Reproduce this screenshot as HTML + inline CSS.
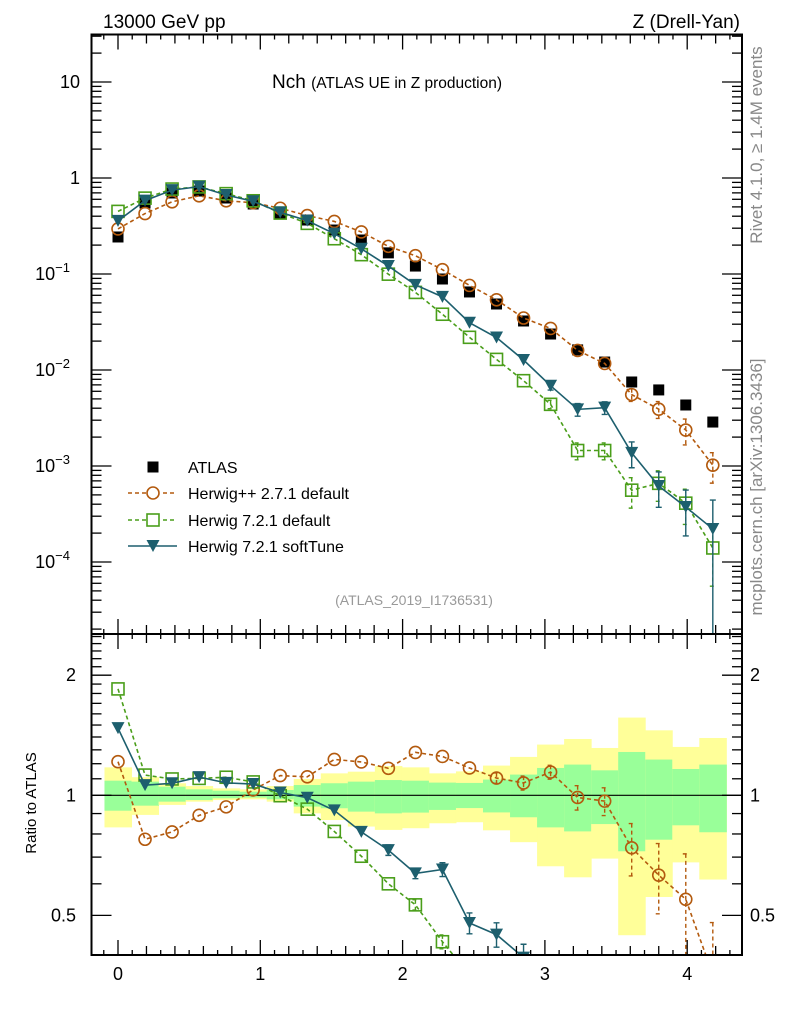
<!DOCTYPE html>
<html><head><meta charset="utf-8"><style>
html,body{margin:0;padding:0;background:#fff;width:786px;height:1024px;overflow:hidden;}
svg{display:block;font-family:"Liberation Sans",Arial,sans-serif;}
</style></head><body>
<svg id="c" width="786" height="1024" viewBox="0 0 786 1024" xmlns="http://www.w3.org/2000/svg" overflow="hidden">
<rect x="0" y="0" width="786" height="1024" fill="#fff"/>
<g id="bands"></g>
<g id="grid"></g>
<g id="series"></g>
<g id="axes"></g>
<text x="103" y="28" font-size="19">13000 GeV pp</text>
<text x="740" y="28" font-size="19" text-anchor="end">Z (Drell-Yan)</text>
<text x="272" y="88" font-size="19">Nch <tspan font-size="15.5">(ATLAS UE in Z production)</tspan></text>
<text x="414" y="605" font-size="14" fill="#999" text-anchor="middle">(ATLAS_2019_I1736531)</text>
<text transform="translate(762,145) rotate(-90)" font-size="17" fill="#888" text-anchor="middle">Rivet 4.1.0, ≥ 1.4M events</text>
<text transform="translate(762,487) rotate(-90)" font-size="17" fill="#888" text-anchor="middle">mcplots.cern.ch [arXiv:1306.3436]</text>
<text transform="translate(36,803) rotate(-90)" font-size="15" text-anchor="middle">Ratio to ATLAS</text>
<g id="legend"></g>
</svg>
<script>
const xs = [0,0.19,0.38,0.57,0.76,0.95,1.14,1.33,1.52,1.71,1.9,2.09,2.28,2.47,2.66,2.85,3.04,3.23,3.42,3.61,3.8,3.99,4.18];
const atlas = [0.243,0.549,0.698,0.732,0.619,0.536,0.432,0.365,0.287,0.226,0.166,0.121,0.0887,0.0650,0.0487,0.0324,0.0237,0.0162,0.0121,0.0075,0.0062,0.00432,0.00287];
const herwigpp = [0.295,0.426,0.565,0.652,0.579,0.553,0.484,0.406,0.353,0.274,0.194,0.155,0.111,0.0761,0.0538,0.0348,0.0271,0.0160,0.0117,0.00554,0.00391,0.00237,0.00102];
const herwigppErr = [0.01,0.01,0.01,0.01,0.01,0.01,0.01,0.01,0.01,0.015,0.015,0.02,0.02,0.02,0.03,0.04,0.04,0.07,0.08,0.15,0.2,0.3,0.35];
const herwig721 = [0.449,0.617,0.767,0.807,0.687,0.579,0.431,0.337,0.233,0.159,0.0996,0.0643,0.0381,0.0219,0.0129,0.00774,0.00439,0.00145,0.00145,0.00056,0.00066,0.00041,0.00014];
const herwig721Err = [0.01,0.01,0.01,0.01,0.01,0.01,0.01,0.01,0.01,0.015,0.02,0.03,0.04,0.05,0.06,0.08,0.1,0.2,0.2,0.35,0.35,0.4,0.6];
const softTune = [0.358,0.582,0.748,0.813,0.665,0.572,0.439,0.360,0.263,0.183,0.121,0.0771,0.0578,0.0311,0.0218,0.0127,0.00686,0.00389,0.00405,0.00137,0.000619,0.000374,0.000221];
const softTuneErr = [0.01,0.01,0.01,0.01,0.01,0.01,0.01,0.01,0.01,0.02,0.03,0.03,0.04,0.06,0.07,0.08,0.1,0.15,0.15,0.3,0.4,0.5,1.0];
const yellowUp = [1.175,1.110,1.072,1.055,1.041,1.035,1.055,1.099,1.135,1.146,1.184,1.175,1.135,1.148,1.187,1.248,1.340,1.384,1.314,1.566,1.455,1.322,1.392];
const yellowDn = [0.831,0.893,0.946,0.964,0.973,0.977,0.964,0.901,0.867,0.835,0.819,0.827,0.851,0.856,0.817,0.763,0.664,0.623,0.694,0.446,0.556,0.679,0.615];
const greenUp = [1.088,1.082,1.051,1.035,1.027,1.021,1.031,1.061,1.072,1.082,1.092,1.088,1.076,1.074,1.095,1.127,1.171,1.194,1.155,1.284,1.229,1.164,1.194];
const greenDn = [0.915,0.942,0.964,0.973,0.983,0.987,0.977,0.937,0.928,0.910,0.901,0.905,0.919,0.929,0.906,0.881,0.831,0.812,0.847,0.724,0.774,0.841,0.808];
const xTicks = [0,1,2,3,4];
const ratioTicks = [0.5,1,2];

const NS="http://www.w3.org/2000/svg";
const L=91.5,R=742,T=34.5,MID=634,B=955;
const X=x=>118+x*142.3;
const Y=v=>178-96*Math.log10(v);
const RY=r=>795.3-399*Math.log10(r);
const BW=0.095;
function mk(tag,attrs,parent){const e=document.createElementNS(NS,tag);for(const k in attrs)e.setAttribute(k,attrs[k]);parent.appendChild(e);return e;}
const svg=document.getElementById('c');
const bands=document.getElementById('bands'),series=document.getElementById('series'),axes=document.getElementById('axes'),legend=document.getElementById('legend');

const defs=mk('defs',{},svg);
const c1=mk('clipPath',{id:'cm'},defs);mk('rect',{x:L,y:T,width:R-L,height:MID-T},c1);
const c2=mk('clipPath',{id:'cr'},defs);mk('rect',{x:L,y:MID,width:R-L,height:B-MID},c2);
bands.setAttribute('clip-path','url(#cr)');

xs.forEach((x,i)=>{
  const a=X(x-BW),w=X(x+BW)-X(x-BW);
  const y=mk('rect',{x:a,y:RY(yellowUp[i]),width:w+0.5,height:RY(yellowDn[i])-RY(yellowUp[i]),fill:'#ffff99'},bands);
  
  
  const g=mk('rect',{x:a,y:RY(greenUp[i]),width:w+0.5,height:RY(greenDn[i])-RY(greenUp[i]),fill:'#99ff99'},bands);
  
  
});
const unity=mk('line',{x1:L,x2:R,y1:RY(1),y2:RY(1),stroke:'#000','stroke-width':1.2},bands);



const gm=mk('g',{'clip-path':'url(#cm)'},series);
const gr=mk('g',{'clip-path':'url(#cr)'},series);

function marker(type,cx,cy,col,parent,name){
  let e;
  if(type==='circle')e=mk('circle',{cx:cx,cy:cy,r:6,fill:'none',stroke:col,'stroke-width':1.6},parent);
  else if(type==='square')e=mk('rect',{x:cx-6,y:cy-6,width:12,height:12,fill:'none',stroke:col,'stroke-width':1.6},parent);
  else if(type==='tri')e=mk('path',{d:`M${cx-6.5},${cy-6} L${cx+6.5},${cy-6} L${cx},${cy+6} Z`,fill:col},parent);
  else e=mk('rect',{x:cx-5.5,y:cy-5.5,width:11,height:11,fill:'#000'},parent);
  
  
}
function drawSeries(vals,errs,col,dash,type,name){
  [[gm,Y,v=>v,MID],[gr,RY,(v,i)=>v/atlas[i],B]].forEach(([g,fy,fv,bot])=>{
    const pts=vals.map((v,i)=>[X(xs[i]),Math.min(fy(fv(v,i)),bot+20)]);
    const pl=mk('polyline',{points:pts.map(p=>p.join(',')).join(' '),fill:'none',stroke:col,'stroke-width':1.6,'stroke-dasharray':dash},g);
    
    
    vals.forEach((v,i)=>{
      const vv=fv(v,i),e=errs[i];
      const hi=fy(vv*(1+e)),lo=(1-e)>0.001?Math.min(fy(vv*(1-e)),bot+5):bot+5;
      if(Math.abs(lo-hi)>8 && hi<bot){
        const eb=mk('path',{d:`M${pts[i][0]},${hi}V${lo}M${pts[i][0]-3},${hi}h6M${pts[i][0]-3},${lo}h6`,stroke:col,'stroke-width':1.4,'stroke-dasharray':dash,fill:'none'},g);
        
        
      }
      if(pts[i][1]<bot+10)marker(type,pts[i][0],pts[i][1],col,g,name+'-point');
    });
  });
}
atlas.forEach((v,i)=>{marker('data',X(xs[i]),Y(v),'#000',gm,'atlas-point');});
drawSeries(herwigpp,herwigppErr,'#b35a0e','4,3','circle','herwigpp-271');
drawSeries(herwig721,herwig721Err,'#4a9e1a','4,3','square','herwig-721-default');
drawSeries(softTune,softTuneErr,'#1d5f6e','','tri','herwig-721-softtune');

[[T,MID],[MID,B]].forEach(([a,b],k)=>{
  const f=mk('rect',{x:L,y:a,width:R-L,height:b-a,fill:'none',stroke:'#000','stroke-width':2},axes);
  
  
});
function tick(x1,y1,x2,y2){mk('line',{x1,y1,x2,y2,stroke:'#000','stroke-width':1.3},axes);}
for(let k=-1;k<=43;k++){
  const x=k/10,px=X(x);if(px<L+1||px>R-1)continue;
  const len=k%10===0?15:(k%2===0?9:5);
  [T,MID].forEach(y=>tick(px,y,px,y+len));
  [MID,B].forEach(y=>tick(px,y,px,y-len));
}
xTicks.forEach(t=>{
  const e=mk('text',{x:X(t),y:980,'font-size':18,'text-anchor':'middle'},axes);e.textContent=t;
  
  
});
for(let d=-5;d<=1;d++){for(let m=1;m<=9;m++){
  const py=Y(m*Math.pow(10,d));if(py<T+1||py>MID-1)continue;
  const len=m===1?20:10;tick(L,py,L+len,py);tick(R,py,R-len,py);
}}
const mainLabs=[[10,'10',null],[1,'1',null],[0.1,'10','−1'],[0.01,'10','−2'],[0.001,'10','−3'],[0.0001,'10','−4']];
mainLabs.forEach(([v,b,s])=>{
  const e=mk('text',{x:s?70:80,y:Y(v)+6,'font-size':18,'text-anchor':'end'},axes);
  e.textContent=b;
  if(s){const t=mk('tspan',{dy:-8,'font-size':13},e);t.textContent=s;}
  
  
});
[0.4,0.5,0.6,0.7,0.8,0.9,1,1.1,1.2,1.3,1.4,1.5,1.6,1.7,1.8,1.9,2,2.1,2.2,2.3,2.4,2.5].forEach(r=>{
  const py=RY(r);if(py<MID+1||py>B-1)return;
  const len=(r===0.5||r===1||r===2)?20:10;tick(L,py,L+len,py);tick(R,py,R-len,py);
});
ratioTicks.forEach(r=>{
  const a=mk('text',{x:76,y:RY(r)+6,'font-size':18,'text-anchor':'end'},axes);a.textContent=r;
  
  
  const b=mk('text',{x:750,y:RY(r)+6,'font-size':18},axes);b.textContent=r;
  
  
});
const legItems=[['ATLAS','data','#000',''],['Herwig++ 2.7.1 default','circle','#b35a0e','4,3'],['Herwig 7.2.1 default','square','#4a9e1a','4,3'],['Herwig 7.2.1 softTune','tri','#1d5f6e','']];
const legY=[467,493,520,546];
legItems.forEach((it,i)=>{
  const y=legY[i];
  if(it[1]!=='data'){const l=mk('line',{x1:128,x2:177,y1:y,y2:y,stroke:it[2],'stroke-width':1.6,'stroke-dasharray':it[3]},legend);
    
    }
  if(it[1]==='circle'||it[1]==='square')mk('rect',{x:146,y:y-7,width:14,height:14,fill:'#fff'},legend);
  marker(it[1],153,y,it[2],legend,'legend-marker');
  const t=mk('text',{x:188,y:y+6,'font-size':16},legend);t.textContent=it[0];
  
  
});
</script>
</body></html>
